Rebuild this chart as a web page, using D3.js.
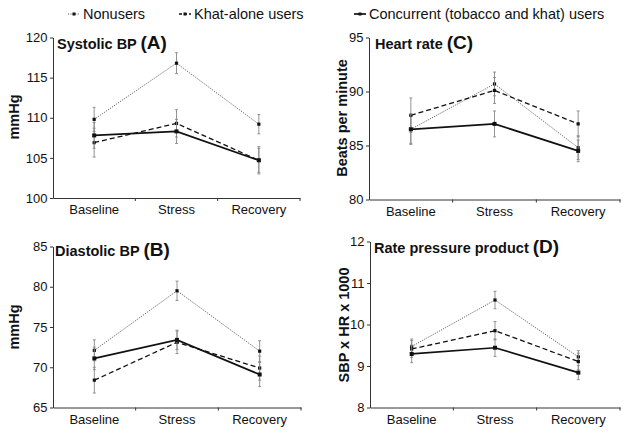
<!DOCTYPE html>
<html><head><meta charset="utf-8">
<script src="https://cdn.jsdelivr.net/npm/d3@7"></script>
<style>body{margin:0;background:#fff}svg{display:block;font-family:"Liberation Sans",Arial,Helvetica,sans-serif}</style>
</head><body><svg id="c" width="629" height="434"></svg>
<script>
const phases = ["Baseline","Stress","Recovery"];
const seriesNames = ["Nonusers","Khat-alone users","Concurrent (tobacco and khat) users"];

// Panel A: Systolic BP
const sbpNon = [109.8,116.8,109.2], sbpNonErr = [1.5,1.3,1.2];
const sbpKhat = [106.9,109.3,104.7], sbpKhatErr = [1.8,1.7,1.5];
const sbpConc = [107.8,108.3,104.7], sbpConcErr = [1.6,1.5,1.7];
const sbpTicks = [100,105,110,115,120];
// Panel B: Diastolic BP
const dbpNon = [72.1,79.5,72.0], dbpNonErr = [1.3,1.2,1.3];
const dbpKhat = [68.4,73.1,69.9], dbpKhatErr = [1.6,1.4,1.5];
const dbpConc = [71.1,73.4,69.1], dbpConcErr = [1.4,1.2,1.5];
const dbpTicks = [65,70,75,80,85];
// Panel C: Heart rate
const hrNon = [86.5,90.7,84.8], hrNonErr = [1.3,1.1,1.1];
const hrKhat = [87.8,90.1,87.0], hrKhatErr = [1.6,1.2,1.2];
const hrConc = [86.5,87.0,84.5], hrConcErr = [1.4,1.2,1.0];
const hrTicks = [80,85,90,95];
// Panel D: Rate pressure product
const rppNon = [9.47,10.59,9.22], rppNonErr = [0.18,0.21,0.15];
const rppKhat = [9.41,9.85,9.11], rppKhatErr = [0.2,0.22,0.2];
const rppConc = [9.29,9.44,8.84], rppConcErr = [0.21,0.21,0.17];
const rppTicks = [8,9,10,11,12];

const styles = [
  {stroke:"#555", width:0.9, dash:"1.2,1.2", r:1.6},
  {stroke:"#111", width:1.3, dash:"5,3", r:1.6},
  {stroke:"#111", width:1.7, dash:null, r:2}
];

const svg = d3.select("#c");

const panels = [
  {title:"Systolic BP ", letter:"(A)", ylabel:"mmHg", ticks:sbpTicks, x0:53, x1:300, yT:37.5, yB:198, lab:{x:19,y:117},
   data:[[sbpNon,sbpNonErr],[sbpKhat,sbpKhatErr],[sbpConc,sbpConcErr]], tx:57, ty:48.5},
  {title:"Heart rate ", letter:"(C)", ylabel:"Beats per minute", ticks:hrTicks, x0:369, x1:620, yT:37.5, yB:199.5, lab:{x:347,y:118},
   data:[[hrNon,hrNonErr],[hrKhat,hrKhatErr],[hrConc,hrConcErr]], tx:375, ty:48.5},
  {title:"Diastolic BP ", letter:"(B)", ylabel:"mmHg", ticks:dbpTicks, x0:53, x1:301, yT:246.5, yB:407.5, lab:{x:19,y:327},
   data:[[dbpNon,dbpNonErr],[dbpKhat,dbpKhatErr],[dbpConc,dbpConcErr]], tx:55, ty:256},
  {title:"Rate pressure product ", letter:"(D)", ylabel:"SBP x HR x 1000", ticks:rppTicks, x0:370, x1:620, yT:241.5, yB:407.5, lab:{x:349,y:325},
   data:[[rppNon,rppNonErr],[rppKhat,rppKhatErr],[rppConc,rppConcErr]], tx:374, ty:252.5}
];

panels.forEach(p => {
  const x = d3.scaleBand().domain(phases).range([p.x0,p.x1]);
  const y = d3.scaleLinear().domain([p.ticks[0], p.ticks[p.ticks.length-1]]).range([p.yB,p.yT]);
  const g = svg.append("g");
  // y axis
  const ya = g.append("g").attr("transform",`translate(${p.x0},0)`)
    .call(d3.axisLeft(y).tickValues(p.ticks).tickFormat(d3.format("d")).tickSize(3).tickPadding(2.5).tickSizeOuter(0));
  ya.selectAll("text").attr("font-size",13).attr("fill","#111").attr("font-family","Liberation Sans, Arial, sans-serif");
  ya.selectAll("line,path").attr("stroke","#333");
  // x axis
  const xa = g.append("g").attr("transform",`translate(0,${p.yB})`)
    .call(d3.axisBottom(x).tickSize(0).tickPadding(7).tickSizeOuter(0));
  xa.selectAll("text").attr("font-size",13).attr("fill","#111").attr("font-family","Liberation Sans, Arial, sans-serif");
  xa.select(".domain").attr("stroke","#333");
  // boundary ticks
  g.selectAll(".bt").data(phases.slice(1).concat(["end"])).join("line")
    .attr("x1",d => d==="end" ? p.x1 : x(d)).attr("x2",d => d==="end" ? p.x1 : x(d))
    .attr("y1",p.yB).attr("y2",p.yB+3).attr("stroke","#333");
  // series
  p.data.forEach((sd,si) => {
    const st = styles[si];
    const vals = sd[0], errs = sd[1];
    const pts = phases.map((ph,i)=>({ph, v:vals[i], e:errs[i]}));
    // error bars
    const eb = g.append("g").attr("stroke","#888").attr("stroke-width",0.9);
    pts.forEach(d => {
      const cx = x(d.ph)+x.bandwidth()/2;
      eb.append("line").attr("x1",cx).attr("x2",cx).attr("y1",y(d.v-d.e)).attr("y2",y(d.v+d.e));
      eb.append("line").attr("x1",cx-1.5).attr("x2",cx+1.5).attr("y1",y(d.v-d.e)).attr("y2",y(d.v-d.e));
      eb.append("line").attr("x1",cx-1.5).attr("x2",cx+1.5).attr("y1",y(d.v+d.e)).attr("y2",y(d.v+d.e));
    });
    const line = d3.line().x(d=>x(d.ph)+x.bandwidth()/2).y(d=>y(d.v));
    g.append("path").datum(pts).attr("d",line).attr("fill","none")
      .attr("stroke",st.stroke).attr("stroke-width",st.width).attr("stroke-dasharray",st.dash);
    g.selectAll(null).data(pts).join("rect")
      .attr("x",d=>x(d.ph)+x.bandwidth()/2-st.r).attr("y",d=>y(d.v)-st.r)
      .attr("width",st.r*2).attr("height",st.r*2).attr("fill","#111");
  });
  // title
  const t = g.append("text").attr("x",p.tx).attr("y",p.ty).attr("font-weight","bold").attr("fill","#111");
  t.append("tspan").attr("font-size",14.5).text(p.title);
  t.append("tspan").attr("font-size",19).text(p.letter);
  // y label
  g.append("text").attr("transform",`translate(${p.lab.x},${p.lab.y}) rotate(-90)`)
    .attr("text-anchor","middle").attr("font-weight","bold").attr("font-size",14.5).attr("fill","#111")
    .text(p.ylabel);
});

// legend
const legX = [68,179,354];
const lg = svg.append("g");
seriesNames.forEach((n,i)=>{
  const st = styles[i];
  const lx = legX[i];
  lg.append("line").attr("x1",lx).attr("x2",lx+12).attr("y1",14).attr("y2",14)
    .attr("stroke",st.stroke).attr("stroke-width",st.width).attr("stroke-dasharray",i===1?"3,2":st.dash);
  lg.append("rect").attr("x",lx+6-1.5).attr("y",12.5).attr("width",3).attr("height",3).attr("fill","#111");
  lg.append("text").attr("x",lx+15).attr("y",18.5).attr("font-size",14.5).attr("fill","#111").text(n);
});
</script></body></html>
